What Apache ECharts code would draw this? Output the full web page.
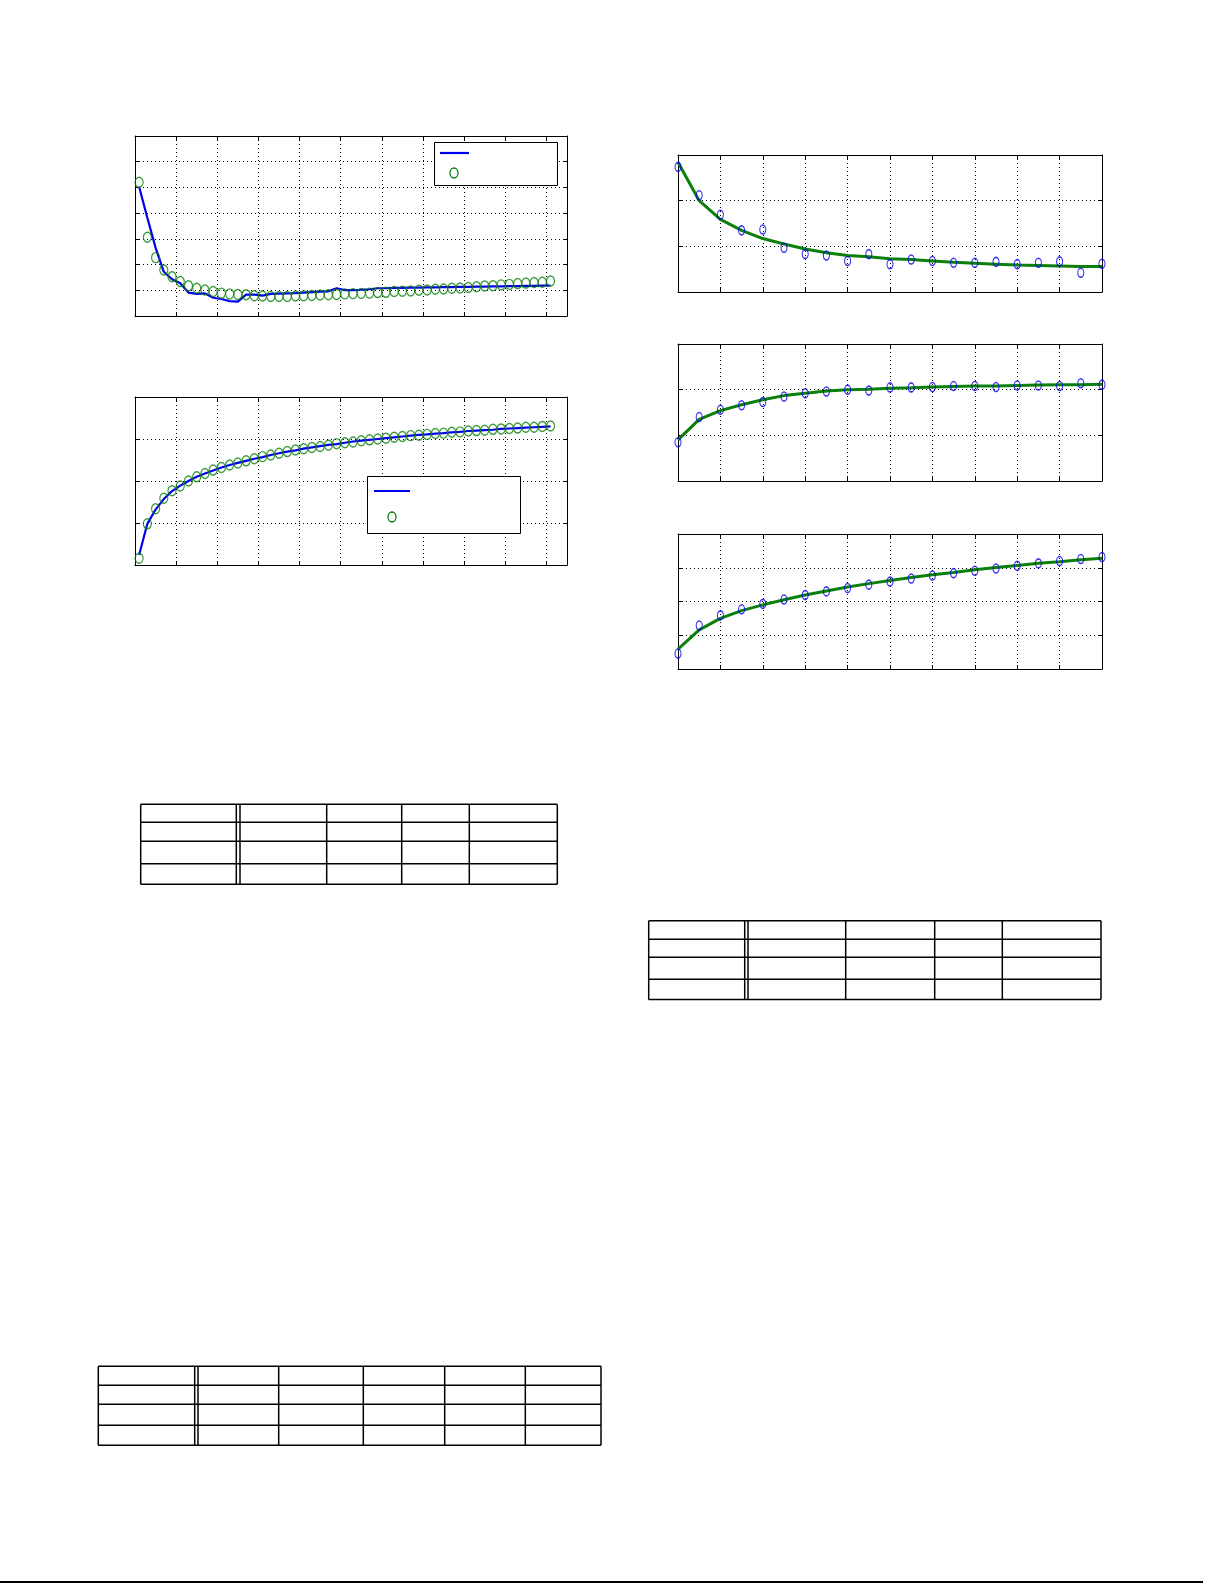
<!DOCTYPE html>
<html><head><meta charset="utf-8">
<script src="https://cdn.jsdelivr.net/npm/echarts@6/dist/echarts.min.js"></script>
<style>html,body{margin:0;padding:0;background:#fff}#c{width:1225px;height:1585px}</style>
</head><body><div id="c"></div>
<script>
// ---- data ----
const xLeft = [0.1,0.3,0.5,0.7,0.9,1.1,1.3,1.5,1.7,1.9,2.1,2.3,2.5,2.7,2.9,3.1,3.3,3.5,3.7,3.9,4.1,4.3,4.5,4.7,4.9,5.1,5.3,5.5,5.7,5.9,6.1,6.3,6.5,6.7,6.9,7.1,7.3,7.5,7.7,7.9,8.1,8.3,8.5,8.7,8.9,9.1,9.3,9.5,9.7,9.9,10.1];
const p1Line = [5.03,3.82,2.66,1.72,1.43,1.27,0.91,0.86,0.88,0.71,0.66,0.58,0.56,0.83,0.83,0.79,0.86,0.87,0.88,0.89,0.91,0.93,0.95,0.96,1.08,1.01,1.01,1.02,1.04,1.08,1.08,1.09,1.09,1.10,1.10,1.11,1.11,1.12,1.12,1.13,1.13,1.14,1.14,1.15,1.15,1.16,1.16,1.17,1.17,1.18,1.18];
const p1Pts = [5.20,3.06,2.27,1.79,1.53,1.34,1.18,1.08,1.01,0.95,0.89,0.86,0.84,0.83,0.79,0.78,0.76,0.76,0.76,0.78,0.79,0.80,0.82,0.83,0.84,0.86,0.87,0.88,0.89,0.91,0.92,0.95,0.96,0.97,1.00,1.01,1.04,1.05,1.08,1.09,1.11,1.14,1.17,1.18,1.21,1.23,1.26,1.28,1.30,1.31,1.36];
const p2Line = [0.24,0.98,1.32,1.57,1.76,1.89,2.00,2.10,2.18,2.25,2.32,2.38,2.43,2.48,2.53,2.57,2.62,2.66,2.70,2.73,2.77,2.80,2.83,2.86,2.88,2.91,2.94,2.96,2.98,3.00,3.02,3.04,3.06,3.08,3.10,3.11,3.13,3.14,3.16,3.17,3.19,3.20,3.21,3.22,3.24,3.25,3.26,3.27,3.28,3.29,3.30];
const p2Pts = [0.16,0.98,1.34,1.59,1.77,1.88,2.00,2.10,2.18,2.26,2.32,2.38,2.43,2.48,2.53,2.58,2.62,2.66,2.70,2.74,2.77,2.80,2.82,2.85,2.89,2.91,2.93,2.96,2.98,3.00,3.02,3.04,3.06,3.08,3.09,3.11,3.13,3.14,3.16,3.17,3.19,3.20,3.21,3.23,3.24,3.25,3.26,3.28,3.28,3.30,3.31];

const xRight = [0,0.5,1,1.5,2,2.5,3,3.5,4,4.5,5,5.5,6,6.5,7,7.5,8,8.5,9,9.5,10];
const r1Pts  = [2.74,2.12,1.69,1.35,1.37,0.97,0.83,0.80,0.68,0.83,0.61,0.71,0.68,0.64,0.64,0.66,0.61,0.64,0.67,0.42,0.62];
const r1Line = [2.84,2.00,1.59,1.35,1.17,1.05,0.94,0.86,0.80,0.77,0.73,0.71,0.68,0.65,0.63,0.61,0.59,0.58,0.57,0.56,0.56];
const r2Pts  = [0.85,1.40,1.56,1.66,1.73,1.85,1.92,1.96,2.00,1.98,2.05,2.05,2.06,2.08,2.08,2.06,2.09,2.09,2.08,2.14,2.11];
const r2Line = [0.90,1.35,1.54,1.67,1.78,1.87,1.92,1.97,2.00,2.01,2.03,2.04,2.06,2.07,2.08,2.08,2.09,2.10,2.11,2.11,2.12];
const r3Pts  = [0.46,1.29,1.59,1.77,1.93,2.06,2.19,2.30,2.40,2.50,2.59,2.68,2.77,2.84,2.91,2.98,3.06,3.13,3.20,3.26,3.32];
const r3Line = [0.59,1.16,1.50,1.73,1.90,2.05,2.19,2.31,2.43,2.53,2.62,2.71,2.79,2.86,2.94,3.01,3.07,3.13,3.18,3.24,3.28];

// axis ranges: [xmin,xmax,xint,ymin,ymax,yint]
const ranges = [
  [0,10.5,1,0,7,1],
  [0,10.5,1,0,4,1],
  [0,10,1,0,3,1],
  [0,10,1,0,3,1],
  [0,10,1,0,4,1]
];

// ---- layout ----
const grids = [
  {left:135, top:136, width:432, height:180},
  {left:135, top:397, width:432, height:168},
  {left:678, top:155, width:424, height:137},
  {left:678, top:344, width:424, height:137},
  {left:678, top:534, width:424, height:135}
];
const BLUE = '#0000f0', GREEN = '#0a800a';
const dotted = {color:'#000', type:[1,3], width:1};

const xAxes = [], yAxes = [];
grids.forEach((g,i)=>{
  const [x0,x1,xi,y0,y1,yi] = ranges[i];
  const base = {type:'value', gridIndex:i, axisLabel:{show:false},
    axisLine:{show:true, onZero:false, lineStyle:{color:'#000', width:1}},
    axisTick:{show:true, inside:true, length:4, lineStyle:{color:'#000'}}};
  xAxes.push(Object.assign({}, base, {position:'bottom', min:x0, max:x1, interval:xi,
    splitLine:{show:true, showMinLine:false, showMaxLine:false, lineStyle:dotted}}));
  xAxes.push(Object.assign({}, base, {position:'top', min:x0, max:x1, interval:xi, splitLine:{show:false}}));
  yAxes.push(Object.assign({}, base, {position:'left', min:y0, max:y1, interval:yi,
    splitLine:{show:true, showMinLine:false, showMaxLine:false, lineStyle:dotted}}));
  yAxes.push(Object.assign({}, base, {position:'right', min:y0, max:y1, interval:yi, splitLine:{show:false}}));
});

const zip = (xs, ys) => xs.map((x,k)=>[x, ys[k]]);
const series = [];
function addLine(gi, xs, ys, color, w){
  series.push({type:'line', xAxisIndex:2*gi, yAxisIndex:2*gi, data:zip(xs,ys), showSymbol:false,
    symbol:'none', lineStyle:{color, width:w}, z:3, animation:false, silent:true});
}
function addPts(gi, xs, ys, color, size){
  series.push({type:'scatter', xAxisIndex:2*gi, yAxisIndex:2*gi, data:zip(xs,ys), symbol:'circle',
    symbolSize:size, itemStyle:{color:'transparent', borderColor:color, borderWidth:1.3}, z:4, animation:false, silent:true});
}
addLine(0, xLeft, p1Line, BLUE, 2.2);
addPts(0, xLeft, p1Pts, GREEN, [8,10]);
addLine(1, xLeft, p2Line, BLUE, 2.2);
addPts(1, xLeft, p2Pts, GREEN, [8,10]);
addPts(2, xRight, r1Pts, BLUE, [6,9]);
addLine(2, xRight, r1Line, GREEN, 3);
addPts(3, xRight, r2Pts, BLUE, [6,9]);
addLine(3, xRight, r2Line, GREEN, 3);
addPts(4, xRight, r3Pts, BLUE, [6,9]);
addLine(4, xRight, r3Line, GREEN, 3);

// ---- graphics: legends, tables, rule ----
const graphic = [];
function legend(x,y,w,h,lx0,lx1,ly,cx,cy){
  graphic.push({type:'rect', shape:{x,y,width:w,height:h}, style:{fill:'#fff', stroke:'#000', lineWidth:1}, z:20});
  graphic.push({type:'line', shape:{x1:lx0,y1:ly,x2:lx1,y2:ly}, style:{stroke:BLUE, lineWidth:2.2}, z:21});
  graphic.push({type:'ellipse', shape:{cx,cy,rx:4,ry:5}, style:{fill:'none', stroke:GREEN, lineWidth:1.3}, z:21});
}
legend(434.5,142.5,123,43, 440,469,153, 454,173);
legend(367.5,476.5,153,57, 374,410,491, 392,517);

function table(cols, rows, dbl){
  const x0 = cols[0], x1 = cols[cols.length-1], y0 = rows[0], y1 = rows[rows.length-1];
  const L = (a,b,c,d)=>graphic.push({type:'line', shape:{x1:a,y1:b,x2:c,y2:d}, style:{stroke:'#000', lineWidth:1.5}, z:10});
  rows.forEach(r=>L(x0,r,x1,r));
  cols.forEach(c=>L(c,y0,c,y1));
  L(dbl,y0,dbl,y1);
}
table([140.7,236.3,326.7,401.7,469.3,557.3],[804.3,822.3,841.3,863.7,884.3],240);
table([648.7,744.7,845.7,934.7,1002.3,1101],[920.7,939.3,957.3,979.3,999.6],748);
table([98.3,194.7,278.7,363.3,444.7,525.3,601],[1366.3,1385.3,1404.3,1425.3,1445.3],198);
graphic.push({type:'line', shape:{x1:0,y1:1582,x2:1203,y2:1582}, style:{stroke:'#000', lineWidth:2}, z:10});

const chart = echarts.init(document.getElementById('c'), null, {renderer:'canvas'});
chart.setOption({
  animation:false,
  backgroundColor:'#fff',
  grid: grids.map(g=>Object.assign({containLabel:false}, g)),
  xAxis: xAxes, yAxis: yAxes, series, graphic
});
</script></body></html>
